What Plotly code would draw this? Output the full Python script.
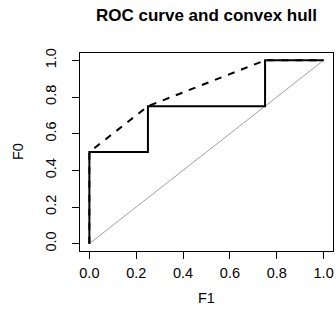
import plotly.graph_objects as go

roc_f1 = [0, 0, 0.25, 0.25, 0.75, 0.75, 1]
roc_f0 = [0, 0.5, 0.5, 0.75, 0.75, 1, 1]
hull_f1 = [0, 0, 0.25, 0.75, 1]
hull_f0 = [0, 0.5, 0.75, 1, 1]
diag = [0, 1]
ticks = [0, 0.2, 0.4, 0.6, 0.8, 1.0]
tick_text = ["0.0", "0.2", "0.4", "0.6", "0.8", "1.0"]

W, H = 336, 322
L, R, T, B = 80, 3, 53, 71
FONT = "Liberation Sans"

fig = go.Figure()
fig.add_trace(go.Scatter(x=diag, y=diag, mode="lines",
                         line=dict(color="#a0a0a0", width=1)))
fig.add_trace(go.Scatter(x=hull_f1, y=hull_f0, mode="lines",
                         line=dict(color="black", width=2, dash="7px,7px")))
fig.add_trace(go.Scatter(x=roc_f1, y=roc_f0, mode="lines",
                         line=dict(color="black", width=2)))

axis_common = dict(
    range=[-0.04, 1.04], tickvals=ticks, ticktext=tick_text,
    showgrid=False, zeroline=False, showline=True, linecolor="black",
    linewidth=1, mirror=True, ticks="outside", ticklen=7, tickcolor="black",
    tickfont=dict(size=14.5, color="black", family=FONT),
)

fig.update_layout(
    width=W, height=H,
    margin=dict(l=L, r=R, t=T, b=B),
    paper_bgcolor="white", plot_bgcolor="white",
    showlegend=False,
    font=dict(family=FONT, color="black"),
    title=dict(text="<b>ROC curve and convex hull</b>", xref="paper", x=0.5,
               xanchor="center", yref="container", y=1 - 15 / H,
               yanchor="middle",
               font=dict(size=17, family=FONT, color="black")),
    xaxis=dict(**axis_common, ticklabelstandoff=2),
    yaxis=dict(**axis_common, tickangle=-90, ticklabelstandoff=10),
    annotations=[
        dict(text="F1", xref="paper", yref="paper", x=0.5, y=0,
             xanchor="center", yanchor="middle", yshift=-47, showarrow=False,
             font=dict(size=14.5, family=FONT, color="black")),
        dict(text="F0", xref="paper", yref="paper", x=0, y=0.5,
             xanchor="center", yanchor="middle", xshift=-62, textangle=-90,
             showarrow=False,
             font=dict(size=14.5, family=FONT, color="black")),
    ],
)

fig.write_html("out.html", config={"displayModeBar": False},
               post_script="document.body.style.margin='0';")
